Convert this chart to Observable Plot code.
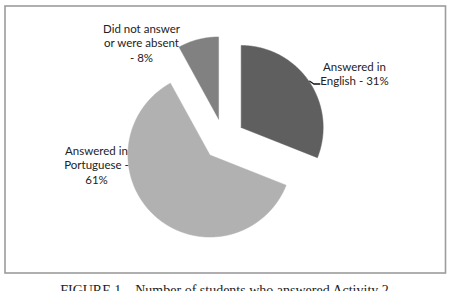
<!DOCTYPE html>
<html>
<head>
<meta charset="utf-8">
<script src="https://cdn.jsdelivr.net/npm/d3@7"></script>
<script src="https://cdn.jsdelivr.net/npm/@observablehq/plot@0.6"></script>
<style>
  html, body { margin: 0; padding: 0; background: #fff; overflow: hidden; width: 449px; height: 291px; }
  #chart { position: absolute; left: 0; top: 0; }
  #caption { position: absolute; left: 0; top: 283.8px; width: 449px; text-align: center;
    font: 14px "Liberation Serif", "Times New Roman", serif; line-height: 14px; color: #222; white-space: nowrap; }
</style>
</head>
<body>
<div id="chart"></div>
<div id="caption">FIGURE 1 – Number of students who answered Activity 2</div>
<script>
// ---- data ----
const categories = ["Answered in English", "Answered in Portuguese", "Did not answer or were absent"];
const percents = [31, 61, 8];
const labels = ["Answered in\nEnglish - 31%", "Answered in\nPortuguese -\n61%", "Did not answer\nor were absent\n- 8%"];
const colors = ["#5f5f5f", "#b1b1b1", "#818181"];

// ---- layout ----
const W = 449, H = 278;
const cx = 223.3, cy = 138.8, R = 82, explode = 21;
const labelAnchors = [[354, 72.6], [96, 164.2], [141, 42.2]];
const leader = [[309.3, 80.7], [313.3, 83.5], [319.3, 83.5]];

const arcs = d3.pie().sort(null).startAngle(0).endAngle(2 * Math.PI)(percents);
const polys = [];
arcs.forEach((a, i) => {
  const mid = (a.startAngle + a.endAngle) / 2;
  const ox = cx + explode * Math.sin(mid), oy = cy - explode * Math.cos(mid);
  const cat = categories[i];
  polys.push({cat, x: ox, y: oy});
  const n = Math.max(2, Math.ceil((a.endAngle - a.startAngle) / 0.01));
  for (let k = 0; k <= n; k++) {
    const t = a.startAngle + (a.endAngle - a.startAngle) * k / n;
    polys.push({cat, x: ox + R * Math.sin(t), y: oy - R * Math.cos(t)});
  }
  polys.push({cat, x: ox, y: oy});
});

const labelData = categories.map((c, i) => ({cat: c, text: labels[i], x: labelAnchors[i][0], y: labelAnchors[i][1]}));

const chart = Plot.plot({
  width: W, height: H,
  marginLeft: 4.5, marginRight: 4, marginTop: 5.5, marginBottom: 5.5,
  x: {domain: [0, W], range: [0, W], axis: null},
  y: {domain: [0, H], range: [0, H], axis: null},
  color: {domain: categories, range: colors},
  style: {background: "#fff"},
  marks: [
    Plot.frame({stroke: "#9c9c9c", strokeWidth: 1.6}),
    Plot.line(polys, {x: "x", y: "y", z: "cat", fill: "cat", stroke: "cat", strokeWidth: 0.5, curve: "linear"}),
    Plot.line(leader, {x: d => d[0], y: d => d[1], stroke: "#111", strokeWidth: 1.3}),
    Plot.text(labelData, {x: "x", y: "y", text: "text", lineAnchor: "middle", lineHeight: 1.25,
      fontSize: 11.5, fill: "#222", fontFamily: "Lato, 'Noto Sans', sans-serif"})
  ]
});
document.getElementById("chart").appendChild(chart);
</script>
</body>
</html>
